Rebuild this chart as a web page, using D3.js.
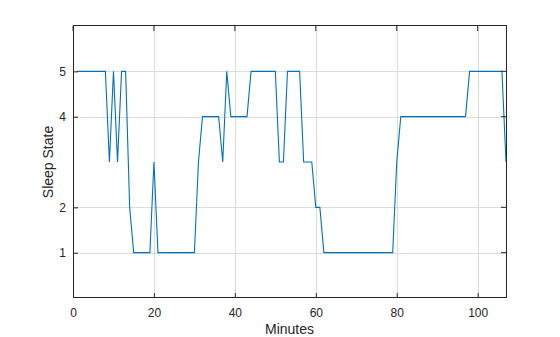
<!DOCTYPE html>
<html>
<head>
<meta charset="utf-8">
<script src="https://cdn.jsdelivr.net/npm/d3@7"></script>
<style>
  body { margin: 0; background: #fff; }
  svg text { font-family: "Liberation Sans", Arial, sans-serif; fill: #262626; }
</style>
</head>
<body>
<svg id="chart" width="560" height="337"></svg>
<script>
// sleep state per minute, minutes 1..107
const minutes = d3.range(1, 108);
const sleepState = [
  5, 5, 5, 5, 5, 5, 5, 5, 3, 5,
  3, 5, 5, 2, 1, 1, 1, 1, 1, 3,
  1, 1, 1, 1, 1, 1, 1, 1, 1, 1,
  3, 4, 4, 4, 4, 4, 3, 5, 4, 4,
  4, 4, 4, 5, 5, 5, 5, 5, 5, 5,
  3, 3, 5, 5, 5, 5, 3, 3, 3, 2,
  2, 1, 1, 1, 1, 1, 1, 1, 1, 1,
  1, 1, 1, 1, 1, 1, 1, 1, 1, 3,
  4, 4, 4, 4, 4, 4, 4, 4, 4, 4,
  4, 4, 4, 4, 4, 4, 4, 5, 5, 5,
  5, 5, 5, 5, 5, 5, 3
];
const xTicks = [0, 20, 40, 60, 80, 100];
const yTicks = [1, 2, 4, 5];

const svg = d3.select("#chart");
const plotLeft = 73, plotRight = 506, plotTop = 26, plotBottom = 298;

const x = d3.scaleLinear().domain([0, 107]).range([plotLeft, plotRight]);
const y = d3.scaleLinear().domain([0, 6]).range([plotBottom, plotTop]);

// grid
const grid = svg.append("g").attr("stroke", "#dcdcdc").attr("stroke-width", 1);
xTicks.forEach(t => grid.append("line")
  .attr("x1", Math.round(x(t)) + 0.5).attr("x2", Math.round(x(t)) + 0.5)
  .attr("y1", plotTop).attr("y2", plotBottom));
yTicks.forEach(t => grid.append("line")
  .attr("x1", plotLeft).attr("x2", plotRight)
  .attr("y1", Math.round(y(t)) + 0.5).attr("y2", Math.round(y(t)) + 0.5));

// data line
const line = d3.line().x((d, i) => x(minutes[i])).y(d => y(d));
svg.append("path")
  .datum(sleepState)
  .attr("fill", "none")
  .attr("stroke", "#0072BD")
  .attr("stroke-width", 1.1)
  .attr("d", line);

// axes (ticks inward, box)
const xAxis = d3.axisBottom(x).tickValues(xTicks).tickFormat(d3.format("d")).tickSize(-5).tickPadding(10);
const yAxis = d3.axisLeft(y).tickValues(yTicks).tickFormat(d3.format("d")).tickSize(-5).tickPadding(7);

const gx = svg.append("g").attr("transform", `translate(0,${plotBottom})`).call(xAxis);
const gy = svg.append("g").attr("transform", `translate(${plotLeft},0)`).call(yAxis);
[gx, gy].forEach(g => {
  g.select(".domain").remove();
  g.selectAll("line").attr("stroke", "#262626");
  g.selectAll("text").attr("font-size", 12).attr("fill", "#262626");
});

// top/right tick marks
const gtop = svg.append("g").attr("stroke", "#262626");
xTicks.forEach(t => gtop.append("line")
  .attr("x1", x(t)).attr("x2", x(t)).attr("y1", plotTop).attr("y2", plotTop + 5));
yTicks.forEach(t => gtop.append("line")
  .attr("x1", plotRight).attr("x2", plotRight - 5).attr("y1", y(t)).attr("y2", y(t)));

svg.append("rect")
  .attr("x", plotLeft + 0.5).attr("y", plotTop - 0.5)
  .attr("width", plotRight - plotLeft).attr("height", plotBottom - plotTop)
  .attr("fill", "none").attr("stroke", "#262626").attr("stroke-width", 1);

svg.append("text")
  .attr("x", (plotLeft + plotRight) / 2).attr("y", 334)
  .attr("text-anchor", "middle").attr("font-size", 14)
  .text("Minutes");

svg.append("text")
  .attr("transform", `translate(53,${(plotTop + plotBottom) / 2}) rotate(-90)`)
  .attr("text-anchor", "middle").attr("font-size", 14)
  .text("Sleep State");
</script>
</body>
</html>
